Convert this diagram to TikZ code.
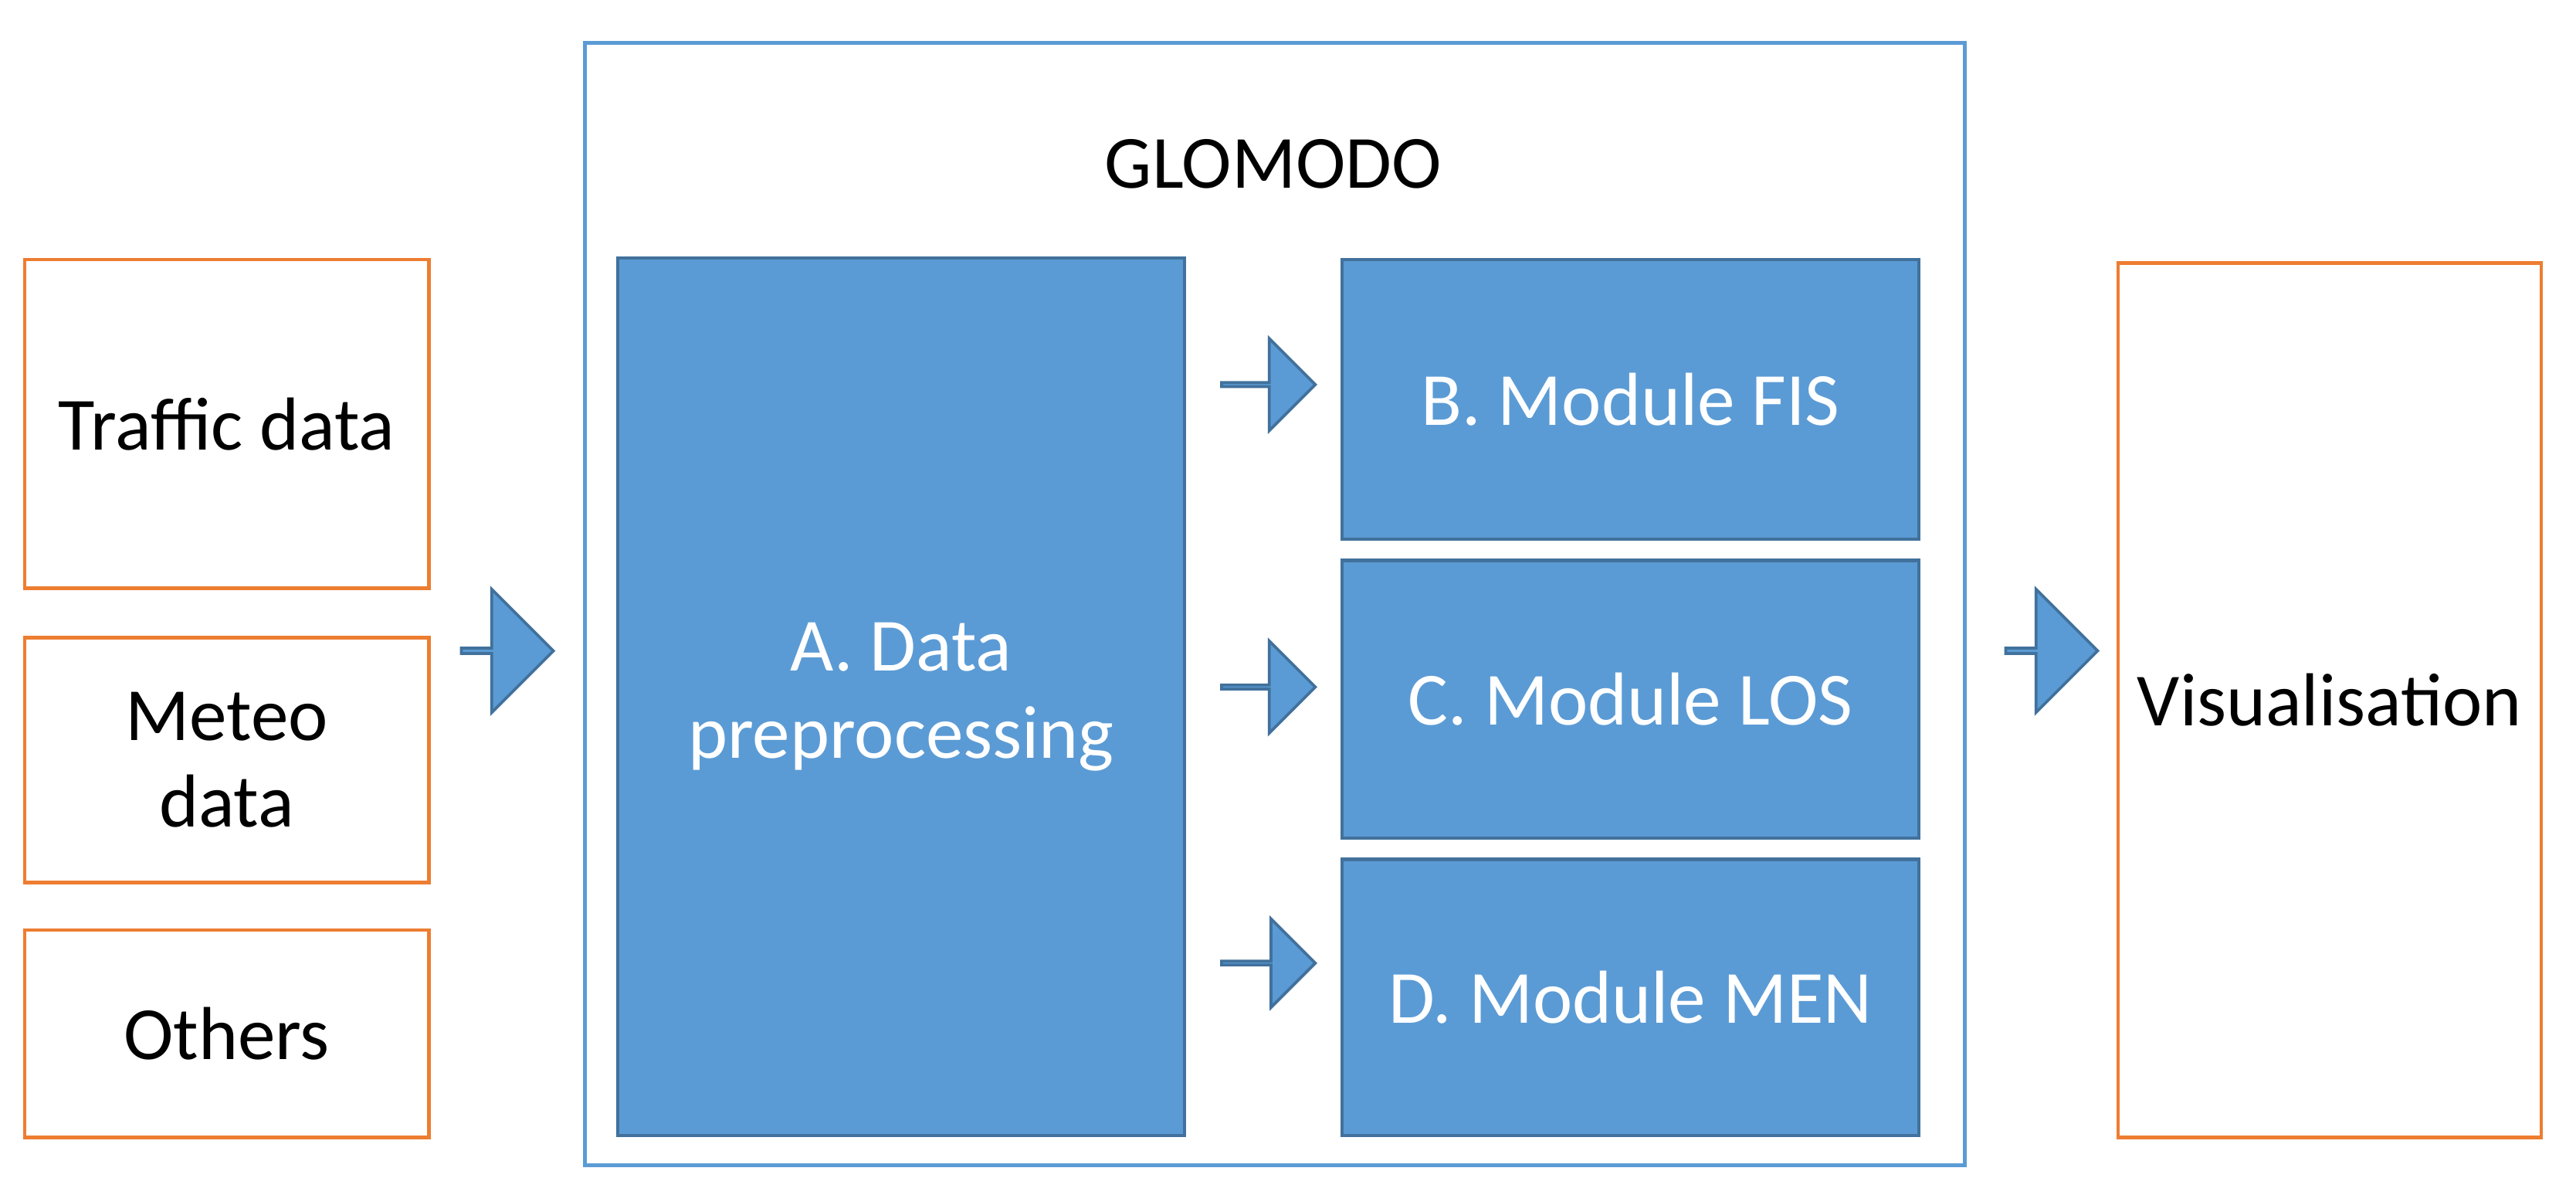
\documentclass[tikz,border=0pt]{standalone}
\usepackage{fontspec}
\setmainfont{Carlito}
\usetikzlibrary{shapes.arrows}
\definecolor{boxblue}{HTML}{5B9BD5}
\definecolor{edgeblue}{HTML}{41719C}
\definecolor{srcorange}{HTML}{ED7D31}
\tikzset{
	srcbox/.style={draw=srcorange, line width=0.6pt, fill=white, align=center, font=\fontsize{13}{15}\selectfont},
	modbox/.style={draw=edgeblue, line width=0.6pt, fill=boxblue, text=white, align=center, font=\fontsize{13}{15}\selectfont},
	flow/.style={single arrow, draw=edgeblue, fill=boxblue, line width=0.5pt, inner sep=0pt,
		single arrow head extend=0.19cm, single arrow head indent=0pt, shape border rotate=0},
}
\begin{document}
\begin{tikzpicture}[x=1cm,y=-1cm]
	\useasboundingbox (0,0) rectangle (15.68,7.27);
	%Outer frame
	\draw[boxblue, line width=0.6pt] (3.56,0.26) rectangle (11.96,7.09);
	\node (glomodo) at (7.75,1.00) {\fontsize{13}{15}\selectfont GLOMODO};

	%Sources
	\node[srcbox, minimum width=2.46cm, minimum height=2.00cm] (traffic) at (1.38,2.58) {Traffic data};
	\node[srcbox, minimum width=2.46cm, minimum height=1.49cm] (meteo) at (1.38,4.625) {Meteo\\data};
	\node[srcbox, minimum width=2.46cm, minimum height=1.26cm] (others) at (1.38,6.29) {Others};

	%Modules
	\node[modbox, minimum width=3.45cm, minimum height=5.34cm] (prep) at (5.485,4.24) {A. Data\\preprocessing};
	\node[modbox, minimum width=3.51cm, minimum height=1.70cm] (fis) at (9.925,2.43) {B. Module FIS};
	\node[modbox, minimum width=3.51cm, minimum height=1.69cm] (los) at (9.925,4.255) {C. Module LOS};
	\node[modbox, minimum width=3.51cm, minimum height=1.68cm] (men) at (9.925,6.07) {D. Module MEN};

	%Output
	\node[srcbox, minimum width=2.44cm, minimum height=5.32cm] (vis) at (14.18,4.26) {Visualisation};

	%Arrows
	\node[flow, minimum width=0.75cm, minimum height=0.56cm] (inflow) at (3.08,3.96) {};
	\node[flow, minimum width=0.56cm, minimum height=0.57cm] (tofis) at (7.715,2.34) {};
	\node[flow, minimum width=0.56cm, minimum height=0.57cm] (tolos) at (7.715,4.18) {};
	\node[flow, minimum width=0.54cm, minimum height=0.57cm] (tomen) at (7.715,5.86) {};
	\node[flow, minimum width=0.75cm, minimum height=0.56cm] (outflow) at (12.48,3.96) {};
\end{tikzpicture}
\end{document}
